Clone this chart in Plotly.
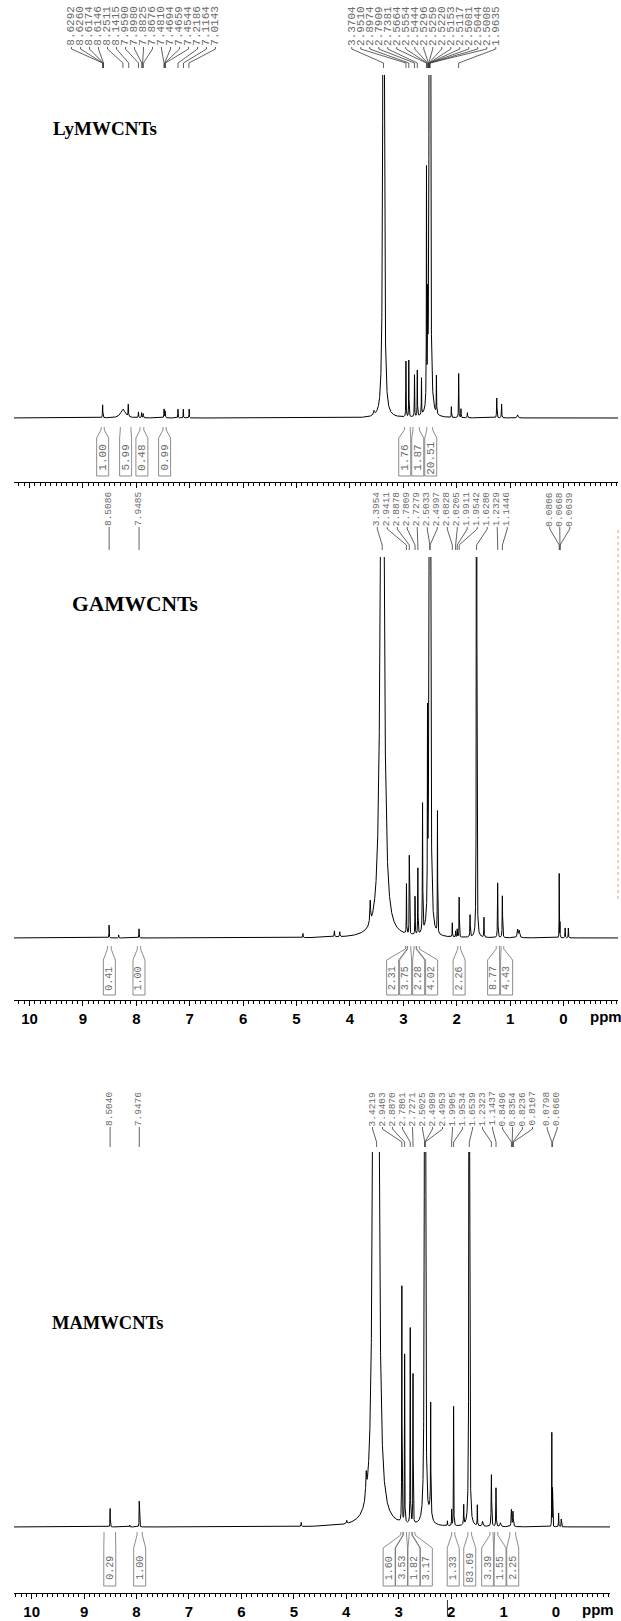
import numpy as np
import plotly.graph_objects as go

FIG_W, FIG_H = 621, 1621

# ---------------------------------------------------------------------------
# Peak tables: chemical shift (ppm), relative intensity (1 = panel top), HWHM (ppm)
# ---------------------------------------------------------------------------
ly_shift = [8.630, 8.250, 8.150, 7.960, 7.900, 7.870, 7.480, 7.460, 7.220, 7.120, 7.010,
            3.550, 3.370, 2.951, 2.897, 2.791, 2.738, 2.660, 2.566, 2.545, 2.504,
            2.380, 2.100, 1.964, 1.920, 1.800, 1.250, 1.160, 0.860]
ly_height = [0.038, 0.026, 0.035, 0.017, 0.015, 0.012, 0.026, 0.020, 0.026, 0.026, 0.026,
             0.012, 3.30, 0.163, 0.166, 0.122, 0.134, 0.108, 0.67, 0.24, 14.6,
             0.111, 0.032, 0.131, 0.026, 0.015, 0.058, 0.041, 0.009]
ly_hwhm = [0.004, 0.05, 0.004, 0.004, 0.004, 0.004, 0.004, 0.004, 0.003, 0.003, 0.003,
           0.01, 0.01, 0.003, 0.003, 0.003, 0.003, 0.003, 0.003, 0.003, 0.004,
           0.003, 0.003, 0.003, 0.003, 0.004, 0.004, 0.004, 0.01]

ga_shift = [8.509, 8.330, 7.949, 4.880, 4.290, 4.190, 3.620, 3.395, 2.941, 2.888, 2.781,
            2.728, 2.640, 2.547, 2.503, 2.360, 2.083, 2.020, 1.991, 1.954, 1.750, 1.628,
            1.490, 1.233, 1.145, 0.860, 0.830, 0.081, 0.067, -0.030, -0.090]
ga_height = [0.034, 0.008, 0.024, 0.011, 0.016, 0.013, 0.058, 2.36, 0.131, 0.21, 0.10,
             0.176, 0.34, 0.48, 10.5, 0.325, 0.037, 0.016, 0.021, 0.105, 0.058, 7.9,
             0.052, 0.144, 0.11, 0.021, 0.018, 0.17, 0.04, 0.026, 0.026]
ga_hwhm = [0.003, 0.003, 0.003, 0.004, 0.005, 0.005, 0.008, 0.03, 0.003, 0.003, 0.003,
           0.003, 0.004, 0.003, 0.005, 0.003, 0.003, 0.003, 0.003, 0.003, 0.004, 0.002,
           0.003, 0.004, 0.004, 0.01, 0.01, 0.002, 0.002, 0.003, 0.003]

ma_shift = [8.504, 8.130, 7.948, 4.860, 3.990, 3.620, 3.470, 3.400, 2.940, 2.887, 2.780,
            2.727, 2.499, 2.400, 2.390, 2.070, 1.990, 1.953, 1.760, 1.654, 1.500, 1.400,
            1.232, 1.144, 1.060, 0.850, 0.820, 0.080, 0.066, -0.050, -0.100]
ma_height = [0.05, 0.005, 0.07, 0.011, 0.008, 0.059, 1.6, 1.6, 0.64, 0.45, 0.53,
             0.40, 10.7, 0.04, 0.28, 0.013, 0.043, 0.32, 0.053, 8.0, 0.056, 0.013,
             0.139, 0.104, 0.01, 0.045, 0.04, 0.26, 0.10, 0.037, 0.021]
ma_hwhm = [0.003, 0.003, 0.003, 0.004, 0.006, 0.01, 0.03, 0.03, 0.003, 0.003, 0.003,
           0.003, 0.004, 0.03, 0.003, 0.003, 0.003, 0.003, 0.004, 0.003, 0.003, 0.01,
           0.005, 0.004, 0.01, 0.006, 0.006, 0.002, 0.002, 0.003, 0.003]

# Peak-pick labels (ppm)
ly_labels = ["8.6292", "8.6260", "8.6174", "8.6146", "8.2511", "8.1415", "7.9590", "7.8980",
             "7.8825", "7.8676", "7.4810", "7.4694", "7.4659", "7.4544", "7.2186", "7.1164",
             "7.0143", "3.3704", "2.9510", "2.8974", "2.7909", "2.7381", "2.5664", "2.5554",
             "2.5444", "2.5296", "2.5259", "2.5220", "2.5153", "2.5117", "2.5081", "2.5044",
             "2.5008", "1.9635"]
ga_labels = ["8.5086", "7.9485", "3.3954", "2.9411", "2.8878", "2.7809", "2.7279", "2.5033",
             "2.4997", "2.0828", "2.0205", "1.9911", "1.9542", "1.6280", "1.2329", "1.1446",
             "0.0806", "0.0668", "0.0639"]
ma_labels = ["8.5040", "7.9476", "3.4219", "2.9403", "2.8870", "2.7801", "2.7271", "2.5025",
             "2.4989", "2.4953", "1.9905", "1.9534", "1.6539", "1.2323", "1.1437", "0.8496",
             "0.8354", "0.8236", "0.8107", "0.0798", "0.0660"]

# Integrals: value, region start (ppm), region end (ppm)
ly_int_val = ["1.00", "5.99", "0.48", "0.99", "1.76", "1.87", "20.51"]
ly_int_from = [8.66, 8.30, 7.93, 7.50, 2.98, 2.82, 2.56]
ly_int_to = [8.60, 8.10, 7.86, 7.44, 2.87, 2.70, 2.45]

ga_int_val = ["0.41", "1.00", "2.31", "3.75", "2.28", "4.02", "2.26", "8.77", "4.43"]
ga_int_from = [8.54, 7.98, 2.96, 2.92, 2.80, 2.75, 1.98, 1.26, 1.17]
ga_int_to = [8.47, 7.92, 2.93, 2.86, 2.76, 2.70, 1.93, 1.20, 1.12]

ma_int_val = ["0.29", "1.00", "1.60", "3.53", "1.82", "3.17", "1.33", "83.69", "3.39", "1.55", "2.25"]
ma_int_from = [8.62, 7.99, 2.96, 2.91, 2.80, 2.74, 1.99, 1.68, 1.26, 1.17, 0.88]
ma_int_to = [8.40, 7.89, 2.92, 2.85, 2.75, 2.69, 1.93, 1.61, 1.20, 1.11, 0.77]

sample_names = ["LyMWCNTs", "GAMWCNTs", "MAMWCNTs"]
axis_ticks = list(range(0, 11))

# ---------------------------------------------------------------------------
# Panel geometry (pixels)
# ---------------------------------------------------------------------------
panels = [
    dict(x0=14, x1=618, r0=10.29, r1=-1.02, top=75, base=418,
         lab_bot=46, lab_fs=11, lead=(49, 63, 68), lab_gap=9.0,
         int_top=427, int_mid=438, int_bot=476, int_fs=11, int_gap=13.0, box_w=12,
         axis_y=482, ticklabels=False, title_x=51, title_y=128, title_fs=19,
         shift=ly_shift, height=ly_height, hwhm=ly_hwhm, labels=ly_labels,
         iv=ly_int_val, ia=ly_int_from, ib=ly_int_to),
    dict(x0=14, x1=618, r0=10.29, r1=-1.02, top=557, base=938,
         lab_bot=526, lab_fs=9.5, lead=(529, 545, 550), lab_gap=10.0,
         int_top=946, int_mid=960, int_bot=995, int_fs=10, int_gap=13.0, box_w=12,
         axis_y=1000, ticklabels=True, title_x=70, title_y=604, title_fs=21.5,
         shift=ga_shift, height=ga_height, hwhm=ga_hwhm, labels=ga_labels,
         iv=ga_int_val, ia=ga_int_from, ib=ga_int_to),
    dict(x0=14, x1=610, r0=10.337, r1=-1.03, top=1152, base=1527,
         lab_bot=1126, lab_fs=9.5, lead=(1129, 1142, 1147), lab_gap=10.0,
         int_top=1532, int_mid=1548, int_bot=1586, int_fs=10, int_gap=12.4, box_w=12,
         axis_y=1593, ticklabels=True, title_x=50, title_y=1323, title_fs=18.5,
         shift=ma_shift, height=ma_height, hwhm=ma_hwhm, labels=ma_labels,
         iv=ma_int_val, ia=ma_int_from, ib=ma_int_to),
]


def yp(y_px):
    """Pixel row -> paper y."""
    return 1.0 - y_px / FIG_H


def spread(centers, gap):
    """Lay labels out left-to-right (descending ppm) with a minimum spacing,
    each group centred on the mean of its targets."""
    u = [-c for c in centers]
    order = sorted(range(len(u)), key=lambda i: u[i])
    clusters = []
    for idx in order:
        clusters.append([u[idx], [idx]])
        while len(clusters) > 1:
            s2, m2 = clusters[-1]
            s1, m1 = clusters[-2]
            c1, c2 = s1 / len(m1), s2 / len(m2)
            end1 = c1 + (len(m1) - 1) / 2 * gap
            start2 = c2 - (len(m2) - 1) / 2 * gap
            if start2 - end1 < gap - 1e-9:
                clusters[-2] = [s1 + s2, m1 + m2]
                clusters.pop()
            else:
                break
    pos = {}
    for s, m in clusters:
        c = s / len(m)
        for j, idx in enumerate(m):
            pos[idx] = c + (j - (len(m) - 1) / 2) * gap
    return [-pos[i] for i in range(len(u))]


x_grid = np.arange(10.45, -1.1, -0.0008)

fig = go.Figure()
shapes = []
annotations = []
layout_axes = {}

for i, p in enumerate(panels):
    n = i + 1
    xname = "x" if n == 1 else f"x{n}"
    yname = "y" if n == 1 else f"y{n}"
    xkey = "xaxis" if n == 1 else f"xaxis{n}"
    ykey = "yaxis" if n == 1 else f"yaxis{n}"
    px_per_ppm = (p["x1"] - p["x0"]) / (p["r0"] - p["r1"])

    # spectrum: sum of Lorentzian lines from the peak table
    spec = np.zeros_like(x_grid)
    for c, h, g in zip(p["shift"], p["height"], p["hwhm"]):
        spec += h * g * g / (g * g + (x_grid - c) ** 2)
    fig.add_trace(go.Scatter(x=x_grid, y=np.round(spec, 5), mode="lines",
                             line=dict(color="black", width=1),
                             xaxis=xname, yaxis=yname, hoverinfo="skip",
                             showlegend=False))

    span = p["base"] - p["top"]
    below = 4
    layout_axes[xkey] = dict(
        domain=[p["x0"] / FIG_W, p["x1"] / FIG_W], range=[p["r0"], p["r1"]],
        anchor="free", position=yp(p["axis_y"]),
        showline=True, linecolor="black", linewidth=1,
        ticks="outside", ticklen=5, tickwidth=1, tickcolor="black",
        tickmode="array", tickvals=axis_ticks, ticktext=[str(t) for t in axis_ticks],
        showticklabels=p["ticklabels"],
        tickfont=dict(family="Liberation Sans", size=15, color="black", weight="bold"),
        minor=dict(tick0=0, dtick=0.1, ticks="outside", ticklen=2.5,
                   tickwidth=0.8, tickcolor="black", showgrid=False),
        showgrid=False, zeroline=False, fixedrange=True)
    layout_axes[ykey] = dict(
        domain=[yp(p["base"] + below), yp(p["top"])],
        range=[-below / span, 1.0], anchor=xname, visible=False, fixedrange=True)

    # peak-pick labels with leader lines
    targets = [float(t) for t in p["labels"]]
    lab_pos = spread(targets, p["lab_gap"] / px_per_ppm)
    for txt, lx, tx in zip(p["labels"], lab_pos, targets):
        tlen = len(txt) * 0.6 * p["lab_fs"]
        annotations.append(dict(
            x=lx, y=yp(p["lab_bot"] - tlen / 2), xref=xname, yref="paper",
            text=txt, textangle=-90, showarrow=False, xanchor="center", yanchor="middle",
            font=dict(family="Liberation Mono", size=p["lab_fs"], color="#6a6a6a")))
        y1, y2, y3 = p["lead"]
        shapes.append(dict(
            type="path", xref=xname, yref="paper",
            path=(f"M {lx},{yp(p['lab_bot'] + 1)} L {lx},{yp(y1)} "
                  f"L {tx},{yp(y2)} L {tx},{yp(y3)}"),
            line=dict(color="#3a3a3a", width=0.8)))

    # integral brackets and values
    mids = [(a + b) / 2 for a, b in zip(p["ia"], p["ib"])]
    box_pos = spread(mids, p["int_gap"] / px_per_ppm)
    hw = p["box_w"] / 2 / px_per_ppm
    for val, a, b, c in zip(p["iv"], p["ia"], p["ib"], box_pos):
        t, m, btm = p["int_top"], p["int_mid"], p["int_bot"]
        shapes.append(dict(
            type="path", xref=xname, yref="paper",
            path=(f"M {a},{yp(t)} L {a},{yp(t + 3)} L {c + hw},{yp(m)} "
                  f"L {c + hw},{yp(btm)} L {c - hw},{yp(btm)} L {c - hw},{yp(m)} "
                  f"L {b},{yp(t + 3)} L {b},{yp(t)}"),
            line=dict(color="#707070", width=0.8)))
        annotations.append(dict(
            x=c, y=yp((m + btm) / 2 + 1), xref=xname, yref="paper",
            text=val, textangle=-90, showarrow=False, xanchor="center", yanchor="middle",
            font=dict(family="Liberation Mono", size=p["int_fs"], color="#6a6a6a")))

    # sample name
    annotations.append(dict(
        x=p["title_x"] / FIG_W, y=yp(p["title_y"]), xref="paper", yref="paper",
        text=sample_names[i], showarrow=False, xanchor="left", yanchor="middle",
        font=dict(family="Liberation Serif", size=p["title_fs"], color="black",
                  weight="bold")))

    # unit label next to the scale
    if p["ticklabels"]:
        annotations.append(dict(
            x=-0.8, y=yp(p["axis_y"] + 16), xref=xname, yref="paper",
            text="ppm", showarrow=False, xanchor="center", yanchor="middle",
            font=dict(family="Liberation Sans", size=15, color="black", weight="bold")))

# small cursor bar beside the "2" of the bottom scale
shapes.append(dict(type="line", xref="x3", yref="paper", x0=2.07, x1=2.07,
                   y0=yp(1600), y1=yp(1616), line=dict(color="#333333", width=1)))

# faint coloured trace along the right edge of the middle spectrum
shapes.append(dict(type="line", xref="paper", yref="paper",
                   x0=618 / FIG_W, x1=618 / FIG_W, y0=yp(530), y1=yp(900),
                   line=dict(color="#e39a55", width=1.5, dash="dot"), opacity=0.6))

fig.update_layout(
    width=FIG_W, height=FIG_H, margin=dict(l=0, r=0, t=0, b=0),
    paper_bgcolor="white", plot_bgcolor="white", showlegend=False,
    shapes=shapes, annotations=annotations, **layout_axes)

fig.write_html("out.html")
